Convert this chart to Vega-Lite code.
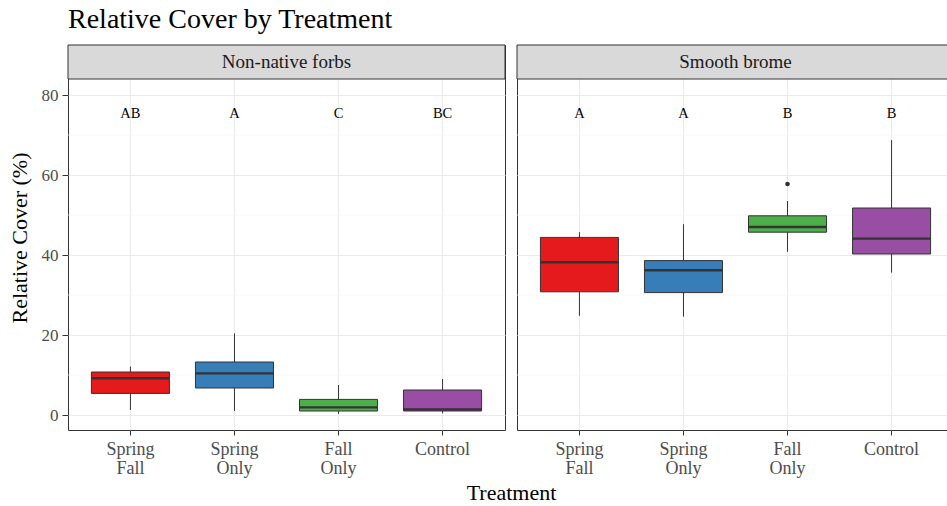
{
  "$schema": "https://vega.github.io/schema/vega-lite/v6.json",
  "background": "white",
  "padding": {"left": 7, "top": 6, "right": 0, "bottom": 0},
  "title": {
    "text": "Relative Cover by Treatment",
    "anchor": "start",
    "frame": "group",
    "font": "Liberation Serif",
    "fontSize": 28,
    "fontWeight": "normal",
    "color": "#000000",
    "dx": 0,
    "offset": 10
  },
  "datasets": {
    "boxes": [
      {"panel": "Non-native forbs", "treatment": "Spring Fall", "letter": "AB", "lo": 1.25, "q1": 5.4, "med": 9.2, "q3": 10.75, "hi": 12.1},
      {"panel": "Non-native forbs", "treatment": "Spring Only", "letter": "A", "lo": 1.0, "q1": 6.75, "med": 10.4, "q3": 13.25, "hi": 20.4},
      {"panel": "Non-native forbs", "treatment": "Fall Only", "letter": "C", "lo": 0.25, "q1": 1.0, "med": 1.9, "q3": 3.9, "hi": 7.5},
      {"panel": "Non-native forbs", "treatment": "Control", "letter": "BC", "lo": 0.4, "q1": 1.0, "med": 1.4, "q3": 6.25, "hi": 9.0},
      {"panel": "Smooth brome", "treatment": "Spring Fall", "letter": "A", "lo": 24.8, "q1": 30.8, "med": 38.2, "q3": 44.4, "hi": 45.7},
      {"panel": "Smooth brome", "treatment": "Spring Only", "letter": "A", "lo": 24.6, "q1": 30.6, "med": 36.2, "q3": 38.6, "hi": 47.7},
      {"panel": "Smooth brome", "treatment": "Fall Only", "letter": "B", "lo": 40.8, "q1": 45.7, "med": 47.0, "q3": 49.8, "hi": 53.5},
      {"panel": "Smooth brome", "treatment": "Control", "letter": "B", "lo": 35.6, "q1": 40.25, "med": 44.1, "q3": 51.75, "hi": 68.7}
    ],
    "outliers": [
      {"panel": "Smooth brome", "treatment": "Fall Only", "value": 57.75}
    ],
    "panels": [
      {"panel": "Non-native forbs"},
      {"panel": "Smooth brome"}
    ],
    "minor": [{"v": 10}, {"v": 30}, {"v": 50}, {"v": 70}]
  },
  "spacing": 12,
  "bounds": "flush",
  "hconcat": [
    {
      "width": 437,
      "height": 385,
      "layer": [
        {
          "data": {"name": "minor"},
          "mark": {"type": "rule", "color": "#F4F4F4", "strokeWidth": 0.7},
          "encoding": {
            "y": {
              "field": "v", "type": "quantitative",
              "scale": {"domain": [-3.75, 92.5], "nice": false, "zero": false},
              "axis": {
                "values": [0, 20, 40, 60, 80],
                "title": "Relative Cover (%)",
                "titleFontSize": 22,
                "titlePadding": 10,
                "labelFontSize": 17,
                "labelColor": "#4D4D4D",
                "labelPadding": 4,
                "tickColor": "#333333",
                "tickSize": 6,
                "domain": false,
                "grid": true,
                "gridColor": "#EBEBEB"
              }
            }
          }
        },
        {
          "data": {"name": "panels"},
          "transform": [{"filter": "datum.panel === 'Non-native forbs'"}],
          "mark": {"type": "rect", "fill": "#D9D9D9", "stroke": "#333333", "strokeWidth": 1},
          "encoding": {
            "y": {"datum": 84, "type": "quantitative"},
            "y2": {"datum": 92.5}
          }
        },
        {
          "data": {"name": "panels"},
          "transform": [{"filter": "datum.panel === 'Non-native forbs'"}],
          "mark": {"type": "text", "fontSize": 19, "color": "#1A1A1A", "baseline": "middle"},
          "encoding": {
            "y": {"datum": 88.25, "type": "quantitative"},
            "text": {"field": "panel"}
          }
        },
        {
          "data": {"name": "boxes"},
          "transform": [{"filter": "datum.panel === 'Non-native forbs'"}],
          "mark": {"type": "rule", "color": "#333333", "strokeWidth": 1},
          "encoding": {
            "x": {
              "field": "treatment", "type": "nominal", "sort": null,
              "scale": {"domain": ["Spring Fall", "Spring Only", "Fall Only", "Control"], "paddingInner": 0, "paddingOuter": 0.1},
              "axis": {
                "title": "Treatment",
                "titleX": 443,
                "titleFontSize": 22,
                "titlePadding": 5,
                "labelExpr": "split(datum.label, ' ')",
                "labelLineHeight": 19,
                "labelFontSize": 18,
                "labelColor": "#4D4D4D",
                "labelAngle": 0,
                "labelPadding": 5,
                "tickColor": "#333333",
                "tickSize": 5,
                "bandPosition": 0.5,
                "domain": false,
                "grid": true,
                "gridColor": "#EBEBEB"
              }
            },
            "y": {"field": "lo", "type": "quantitative"},
            "y2": {"field": "hi"}
          }
        },
        {
          "data": {"name": "boxes"},
          "transform": [{"filter": "datum.panel === 'Non-native forbs'"}],
          "mark": {"type": "bar", "width": {"band": 0.75}, "stroke": "#333333", "strokeWidth": 1},
          "encoding": {
            "x": {"field": "treatment", "type": "nominal", "sort": null},
            "y": {"field": "q1", "type": "quantitative"},
            "y2": {"field": "q3"},
            "fill": {
              "field": "treatment", "type": "nominal",
              "scale": {"domain": ["Spring Fall", "Spring Only", "Fall Only", "Control"], "range": ["#E41A1C", "#377EB8", "#4DAF4A", "#984EA3"]},
              "legend": null
            }
          }
        },
        {
          "data": {"name": "boxes"},
          "transform": [{"filter": "datum.panel === 'Non-native forbs'"}],
          "mark": {"type": "tick", "color": "#333333", "thickness": 2.4, "size": 78, "opacity": 1},
          "encoding": {
            "x": {"field": "treatment", "type": "nominal", "sort": null},
            "y": {"field": "med", "type": "quantitative"}
          }
        },
        {
          "data": {"name": "boxes"},
          "transform": [{"filter": "datum.panel === 'Non-native forbs'"}],
          "mark": {"type": "text", "fontSize": 14.5, "color": "#000000", "baseline": "middle"},
          "encoding": {
            "x": {"field": "treatment", "type": "nominal", "sort": null},
            "y": {"datum": 75.3, "type": "quantitative"},
            "text": {"field": "letter"}
          }
        }
      ]
    },
    {
      "width": 437,
      "height": 385,
      "layer": [
        {
          "data": {"name": "minor"},
          "mark": {"type": "rule", "color": "#F4F4F4", "strokeWidth": 0.7},
          "encoding": {
            "y": {
              "field": "v", "type": "quantitative",
              "scale": {"domain": [-3.75, 92.5], "nice": false, "zero": false},
              "axis": {
                "values": [0, 20, 40, 60, 80],
                "title": null,
                "labels": false,
                "ticks": false,
                "domain": false,
                "grid": true,
                "gridColor": "#EBEBEB"
              }
            }
          }
        },
        {
          "data": {"name": "panels"},
          "transform": [{"filter": "datum.panel === 'Smooth brome'"}],
          "mark": {"type": "rect", "fill": "#D9D9D9", "stroke": "#333333", "strokeWidth": 1},
          "encoding": {
            "y": {"datum": 84, "type": "quantitative"},
            "y2": {"datum": 92.5}
          }
        },
        {
          "data": {"name": "panels"},
          "transform": [{"filter": "datum.panel === 'Smooth brome'"}],
          "mark": {"type": "text", "fontSize": 19, "color": "#1A1A1A", "baseline": "middle"},
          "encoding": {
            "y": {"datum": 88.25, "type": "quantitative"},
            "text": {"field": "panel"}
          }
        },
        {
          "data": {"name": "boxes"},
          "transform": [{"filter": "datum.panel === 'Smooth brome'"}],
          "mark": {"type": "rule", "color": "#333333", "strokeWidth": 1},
          "encoding": {
            "x": {
              "field": "treatment", "type": "nominal", "sort": null,
              "scale": {"domain": ["Spring Fall", "Spring Only", "Fall Only", "Control"], "paddingInner": 0, "paddingOuter": 0.1},
              "axis": {
                "title": null,
                "labelExpr": "split(datum.label, ' ')",
                "labelLineHeight": 19,
                "labelFontSize": 18,
                "labelColor": "#4D4D4D",
                "labelAngle": 0,
                "labelPadding": 5,
                "tickColor": "#333333",
                "tickSize": 5,
                "bandPosition": 0.5,
                "domain": false,
                "grid": true,
                "gridColor": "#EBEBEB"
              }
            },
            "y": {"field": "lo", "type": "quantitative"},
            "y2": {"field": "hi"}
          }
        },
        {
          "data": {"name": "boxes"},
          "transform": [{"filter": "datum.panel === 'Smooth brome'"}],
          "mark": {"type": "bar", "width": {"band": 0.75}, "stroke": "#333333", "strokeWidth": 1},
          "encoding": {
            "x": {"field": "treatment", "type": "nominal", "sort": null},
            "y": {"field": "q1", "type": "quantitative"},
            "y2": {"field": "q3"},
            "fill": {
              "field": "treatment", "type": "nominal",
              "scale": {"domain": ["Spring Fall", "Spring Only", "Fall Only", "Control"], "range": ["#E41A1C", "#377EB8", "#4DAF4A", "#984EA3"]},
              "legend": null
            }
          }
        },
        {
          "data": {"name": "boxes"},
          "transform": [{"filter": "datum.panel === 'Smooth brome'"}],
          "mark": {"type": "tick", "color": "#333333", "thickness": 2.4, "size": 78, "opacity": 1},
          "encoding": {
            "x": {"field": "treatment", "type": "nominal", "sort": null},
            "y": {"field": "med", "type": "quantitative"}
          }
        },
        {
          "data": {"name": "outliers"},
          "mark": {"type": "circle", "size": 22, "color": "#333333", "opacity": 1},
          "encoding": {
            "x": {"field": "treatment", "type": "nominal", "sort": null},
            "y": {"field": "value", "type": "quantitative"}
          }
        },
        {
          "data": {"name": "boxes"},
          "transform": [{"filter": "datum.panel === 'Smooth brome'"}],
          "mark": {"type": "text", "fontSize": 14.5, "color": "#000000", "baseline": "middle"},
          "encoding": {
            "x": {"field": "treatment", "type": "nominal", "sort": null},
            "y": {"datum": 75.3, "type": "quantitative"},
            "text": {"field": "letter"}
          }
        }
      ]
    }
  ],
  "config": {
    "font": "Liberation Serif",
    "view": {"stroke": "#333333", "strokeWidth": 1},
    "axis": {"gridWidth": 1.1, "titleFontWeight": "normal", "titleColor": "#000000", "titleFont": "Liberation Serif", "labelFont": "Liberation Serif"},
    "text": {"font": "Liberation Serif"}
  }
}
